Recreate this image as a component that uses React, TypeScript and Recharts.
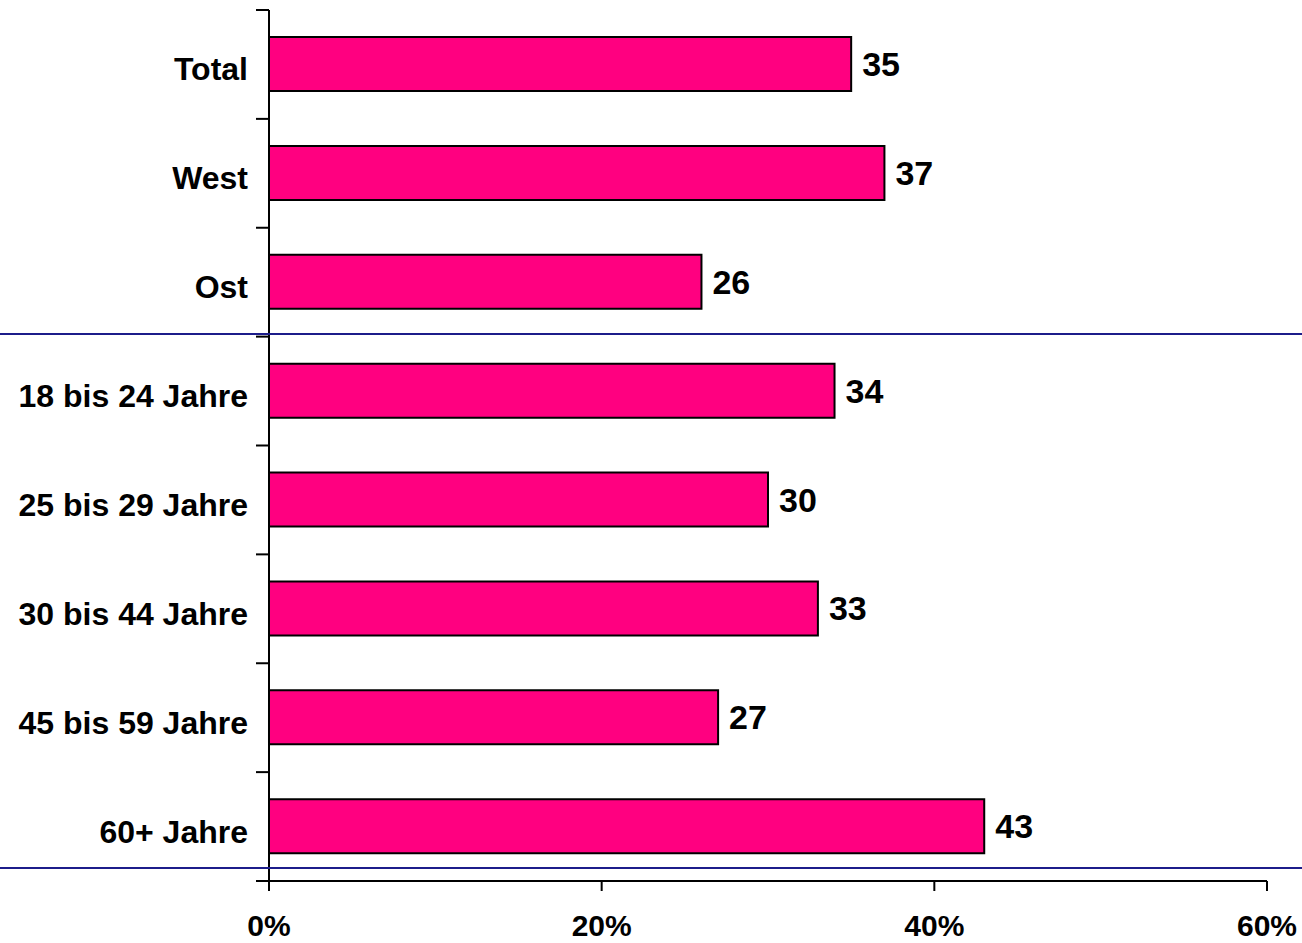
import { BarChart, Bar, XAxis, YAxis, LabelList } from 'recharts'

const CATEGORIES = [
  'Total',
  'West',
  'Ost',
  '18 bis 24 Jahre',
  '25 bis 29 Jahre',
  '30 bis 44 Jahre',
  '45 bis 59 Jahre',
  '60+ Jahre',
]
const VALUES = [35, 37, 26, 34, 30, 33, 27, 43]
const X_TICKS = [0, 20, 40, 60]

const data = CATEGORIES.map((name, i) => ({ name, value: VALUES[i] }))

const W = 1302
const H = 943
const TOP = 10
const AXIS_X = 269
const X_AXIS_H = 62
const BAND = (H - TOP - X_AXIS_H) / CATEGORIES.length
const FONT = '"Liberation Sans", Arial, Helvetica, sans-serif'

function CategoryTick(props: any) {
  const { y, payload, index } = props
  const top = y - BAND / 2
  const last = index === CATEGORIES.length - 1
  return (
    <g>
      <line x1={AXIS_X - 13} x2={AXIS_X} y1={top} y2={top} stroke="#000" strokeWidth={2} />
      {last && (
        <line
          x1={AXIS_X - 13}
          x2={AXIS_X}
          y1={y + BAND / 2}
          y2={y + BAND / 2}
          stroke="#000"
          strokeWidth={2}
        />
      )}
      <text
        x={248}
        y={y + 16}
        textAnchor="end"
        fontSize={32}
        fontWeight="bold"
        fill="#000"
        fontFamily={FONT}
      >
        {payload.value}
      </text>
    </g>
  )
}

const separator = (top: number) => (
  <div
    style={{
      position: 'absolute',
      left: 0,
      top,
      width: W,
      height: 2,
      background: '#1c1c8a',
      pointerEvents: 'none',
    }}
  />
)

export default function App() {
  return (
    <div style={{ position: 'relative', width: W, height: H, background: '#fff' }}>
      <style>{'body{margin:0}'}</style>
      <BarChart
        width={W}
        height={H}
        data={data}
        layout="vertical"
        margin={{ top: TOP, right: W - 1267, bottom: 0, left: 0 }}
      >
        <XAxis
          type="number"
          domain={[0, 60]}
          ticks={X_TICKS}
          tickFormatter={(v) => `${v}%`}
          height={X_AXIS_H}
          axisLine={{ stroke: '#000', strokeWidth: 2 }}
          tickLine={{ stroke: '#000', strokeWidth: 2 }}
          tickSize={10}
          tickMargin={24}
          tick={{ fontSize: 30, fontWeight: 'bold', fill: '#000', fontFamily: FONT }}
        />
        <YAxis
          type="category"
          dataKey="name"
          width={AXIS_X}
          axisLine={{ stroke: '#000', strokeWidth: 2 }}
          tickLine={false}
          tick={<CategoryTick />}
          interval={0}
        />
        <Bar
          dataKey="value"
          fill="#ff0080"
          stroke="#000"
          strokeWidth={2}
          barSize={54}
          isAnimationActive={false}
        >
          <LabelList
            dataKey="value"
            position="right"
            offset={11}
            style={{ fontSize: 34, fontWeight: 'bold', fill: '#000', fontFamily: FONT }}
          />
        </Bar>
      </BarChart>
      {separator(333)}
      {separator(867)}
    </div>
  )
}
